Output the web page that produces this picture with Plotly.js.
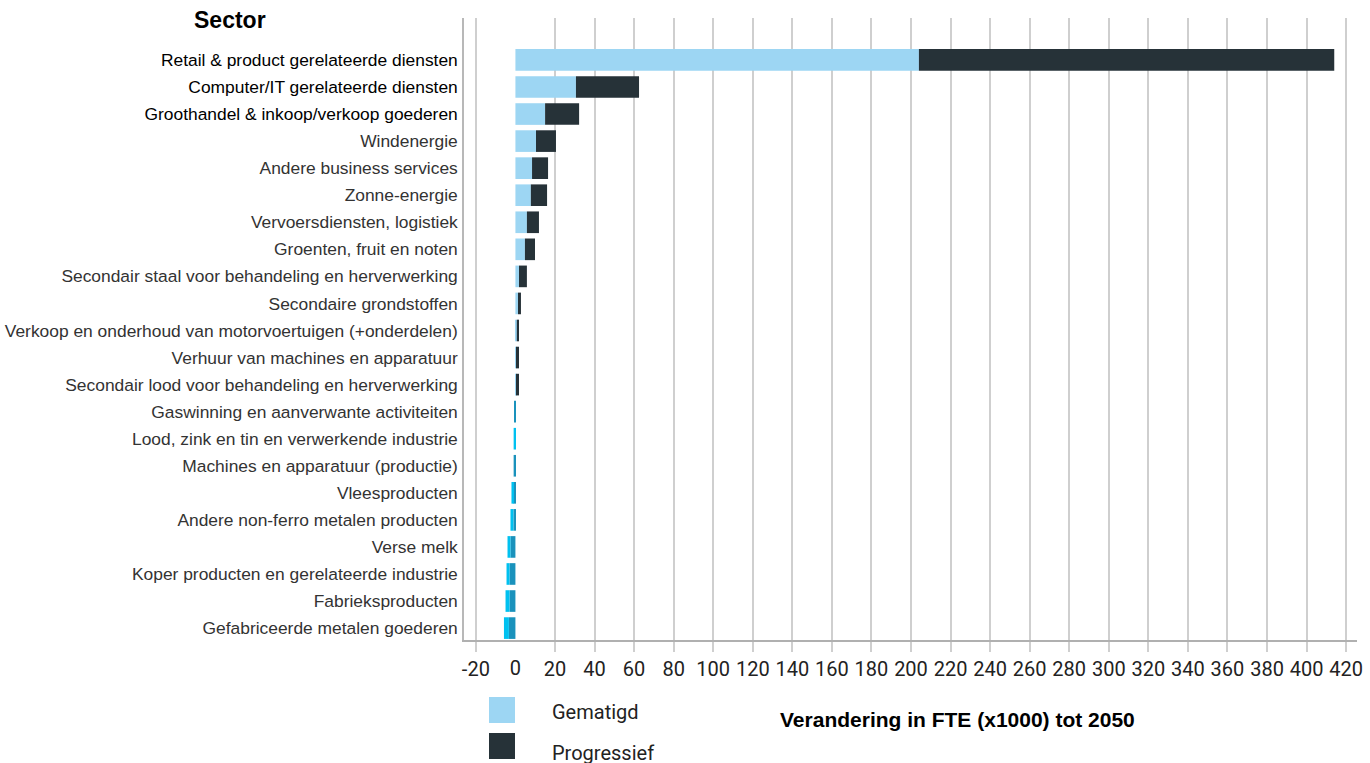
<!DOCTYPE html>
<html>
<head>
<meta charset="utf-8">
<script src="https://cdn.plot.ly/plotly-3.0.1.min.js"></script>
<style>html,body{margin:0;padding:0;background:#fff;}#chart{width:1370px;height:763px;}</style>
</head>
<body>
<div id="chart"></div>
<script>
const categories = [
  "Retail & product gerelateerde diensten",
  "Computer/IT gerelateerde diensten",
  "Groothandel & inkoop/verkoop goederen",
  "Windenergie",
  "Andere business services",
  "Zonne-energie",
  "Vervoersdiensten, logistiek",
  "Groenten, fruit en noten",
  "Secondair staal voor behandeling en herverwerking",
  "Secondaire grondstoffen",
  "Verkoop en onderhoud van motorvoertuigen (+onderdelen)",
  "Verhuur van machines en apparatuur",
  "Secondair lood voor behandeling en herverwerking",
  "Gaswinning en aanverwante activiteiten",
  "Lood, zink en tin en verwerkende industrie",
  "Machines en apparatuur (productie)",
  "Vleesproducten",
  "Andere non-ferro metalen producten",
  "Verse melk",
  "Koper producten en gerelateerde industrie",
  "Fabrieksproducten",
  "Gefabriceerde metalen goederen"
];
const gematigd    = [204, 30.6, 15, 10.4, 8.4, 7.8, 5.8, 4.8, 1.8, 1.3, 0.7, 0.3, 0.3, -0.6, 0, -0.9, -1, -1, -2.5, -3, -3, -3.3];
const progressief = [210, 31.9, 17.2, 10.1, 8.1, 8.2, 6.1, 5.1, 4.0, 1.5, 1.1, 1.5, 1.5, 0, -0.9, 0, -1, -1.5, -1.5, -1.5, -2, -2.5];
const tickValues = [-20, 20, 40, 60, 80, 100, 120, 140, 160, 180, 200, 220, 240, 260, 280, 300, 320, 340, 360, 380, 400, 420];

const colGemPos = '#9dd6f3', colGemNeg = '#1a92bc';
const colProPos = '#263238', colProNeg = '#00c1f0';

const catLabels = categories.map((c, i) => i < 3 ? '<span style="color:#000">' + c + '</span>' : c);

const traces = [
  {type: 'bar', orientation: 'h', name: 'Gematigd', y: categories, x: gematigd,
   marker: {color: gematigd.map(v => v < 0 ? colGemNeg : colGemPos), line: {width: 0}},
   hoverinfo: 'x+y+name', showlegend: false},
  {type: 'bar', orientation: 'h', name: 'Progressief', y: categories, x: progressief,
   marker: {color: progressief.map(v => v < 0 ? colProNeg : colProPos), line: {width: 0}},
   hoverinfo: 'x+y+name', showlegend: false},
  {type: 'bar', orientation: 'h', x: [], y: [], xaxis: 'x2', showlegend: false, hoverinfo: 'skip'}
];

const xr = [-26, 425.5];
const tickFont = {family: 'Roboto, "Liberation Sans", sans-serif', size: 20, color: '#222'};

const layout = {
  width: 1370, height: 763,
  margin: {l: 464, r: 13, t: 18, b: 123, pad: 0},
  paper_bgcolor: '#fff', plot_bgcolor: '#fff',
  barmode: 'relative', bargap: 0.2,
  showlegend: false,
  font: {family: '"Liberation Sans", Arial, sans-serif', color: '#333'},
  xaxis: {
    range: xr, autorange: false,
    tickvals: tickValues, ticktext: tickValues.map(String),
    showgrid: true, gridcolor: '#cfcfcf', gridwidth: 1.5,
    zeroline: false,
    showline: true, linecolor: '#b0b0b0', linewidth: 2,
    ticks: 'outside', ticklen: 10, tickcolor: '#cfcfcf', tickwidth: 1.5,
    tickfont: tickFont, fixedrange: true
  },
  xaxis2: {
    overlaying: 'x', anchor: 'y', side: 'bottom',
    range: xr, autorange: false,
    tickvals: [0], ticktext: ['0'],
    showgrid: false, zeroline: false, showline: false,
    ticks: 'outside', ticklen: 10, tickcolor: 'rgba(0,0,0,0)', tickwidth: 1.5,
    tickfont: tickFont, fixedrange: true
  },
  yaxis: {
    type: 'category', categoryorder: 'array', categoryarray: categories,
    tickvals: categories, ticktext: catLabels,
    range: [21.44, -1.55], autorange: false,
    showgrid: false, zeroline: false,
    showline: true, linecolor: '#b8b8b8', linewidth: 1.5,
    ticks: '', ticklabelstandoff: 1,
    tickfont: {family: '"Liberation Sans", Arial, sans-serif', size: 17.4, color: '#333'},
    fixedrange: true
  },
  shapes: [
    {type: 'rect', xref: 'paper', yref: 'paper', x0: 0.028, x1: 0.0571, y0: -0.0916, y1: -0.1334, fillcolor: colGemPos, line: {width: 0}},
    {type: 'rect', xref: 'paper', yref: 'paper', x0: 0.028, x1: 0.0571, y0: -0.1495, y1: -0.1913, fillcolor: colProPos, line: {width: 0}}
  ],
  annotations: [
    {text: '<b>Sector</b>', xref: 'paper', yref: 'paper', x: -0.262, y: 0.9968, xanchor: 'center', yanchor: 'middle', showarrow: false,
     font: {family: '"Liberation Sans", Arial, sans-serif', size: 23, color: '#000'}},
    {text: '<b>Verandering in FTE (x1000) tot 2050</b>', xref: 'paper', yref: 'paper', x: 0.553, y: -0.1286, xanchor: 'center', yanchor: 'middle', showarrow: false,
     font: {family: '"Liberation Sans", Arial, sans-serif', size: 21, color: '#000'}},
    {text: 'Gematigd', xref: 'paper', yref: 'paper', x: 0.0963, y: -0.1158, xanchor: 'left', yanchor: 'middle', showarrow: false,
     font: {family: 'Roboto, "Liberation Sans", sans-serif', size: 20, color: '#222'}},
    {text: 'Progressief', xref: 'paper', yref: 'paper', x: 0.0963, y: -0.1815, xanchor: 'left', yanchor: 'middle', showarrow: false,
     font: {family: 'Roboto, "Liberation Sans", sans-serif', size: 20, color: '#222'}}
  ]
};

Plotly.newPlot('chart', traces, layout, {displayModeBar: false, staticPlot: false});
</script>
</body>
</html>
